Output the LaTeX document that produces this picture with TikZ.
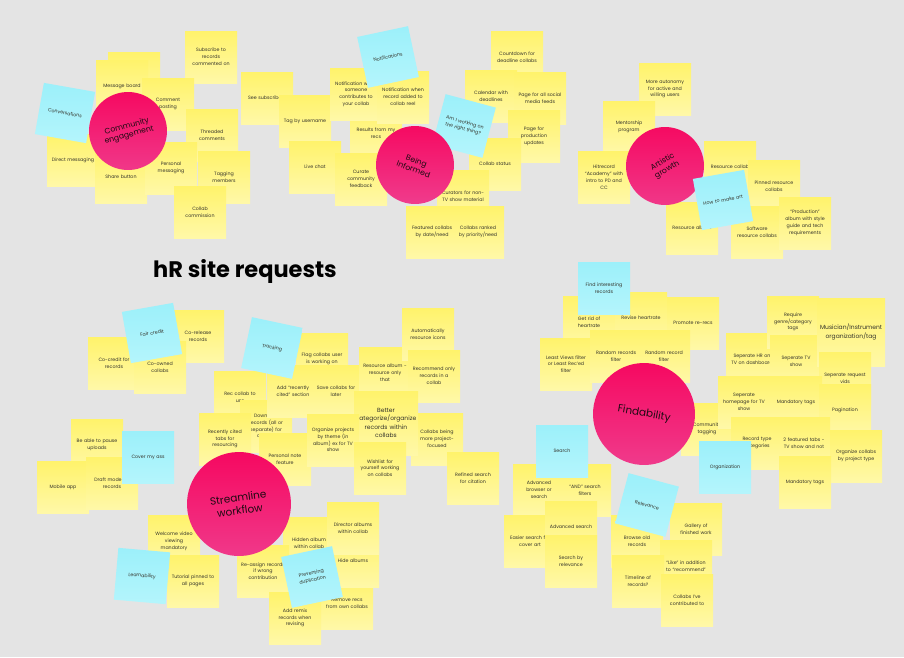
\documentclass[tikz,border=0pt]{standalone}
\usepackage{fontspec}
\setmainfont{Poppins}
\usetikzlibrary{positioning}

\definecolor{canvasgray}{HTML}{E4E4E4}
\definecolor{noteyellowtop}{HTML}{FFF36B}
\definecolor{noteyellowbot}{HTML}{FFF8A8}
\definecolor{notebluetop}{HTML}{9CF0FA}
\definecolor{notebluebot}{HTML}{B4F5FC}
\definecolor{topicpinktop}{HTML}{F6075F}
\definecolor{topicpinkbot}{HTML}{F03A8B}
\definecolor{notetext}{HTML}{34332A}
\definecolor{topictext}{HTML}{1E0A12}

\newcommand{\notefont}{\fontsize{4.75}{6.8}\selectfont\hyphenpenalty=10000\relax}
\newcommand{\bignotefont}{\fontsize{6}{8.2}\selectfont\hyphenpenalty=10000\relax}
\newcommand{\topicfont}{\fontsize{7.7}{9}\selectfont}
\newcommand{\bigtopicfont}{\fontsize{10.5}{12.5}\selectfont}

\begin{document}
\begin{tikzpicture}[x=1pt,y=-1pt,
        sticky/.style={rectangle,minimum size=52pt,inner sep=1pt,text width=50pt,align=center,
          font=\notefont,text=notetext,top color=noteyellowtop,bottom color=noteyellowbot},
        bluesticky/.style={sticky,top color=notebluetop,bottom color=notebluebot},
        bigsticky/.style={sticky,font=\bignotefont,text width=62pt,minimum size=64pt},
        topic/.style={circle,minimum size=78pt,inner sep=0pt,align=center,
          font=\topicfont,text=topictext,top color=topicpinktop,bottom color=topicpinkbot},
        bigtopic/.style={topic,minimum size=104pt,font=\bigtopicfont}]
\useasboundingbox (0,0) rectangle (904,657);
\fill[canvasgray] (0,0) rectangle (904,657);

\node[font=\bfseries\fontsize{22.5}{26}\selectfont] (title) at (245,271) {hR site requests};

% community engagement
\foreach \nm/\x/\y/\txt in {c-back/134/78/{},c-board/122/86/{Message board},
  c-subscribe/211/57/{Subscribe to\\records\\commented on},c-comment/168/104/{Comment\\posting},
  c-threaded/212/135/{Threaded\\comments},c-direct/73/160/{Direct messaging},
  c-share/121/177/{Share button},c-personal/171/168/{Personal\\messaging},
  c-tagging/224/177/{Tagging\\members},c-commission/200/212/{Collab\\commission}}{
\node[sticky] (\nm) at (\x,\y) {\txt};
}
\node[bluesticky,rotate=-10] (c-conv) at (65,113) {Conversations};
\node[topic,rotate=15] (c-topic) at (128,131) {Community\\engagement};

% being informed
\foreach \nm/\x/\y/\txt in {i-seesub/267/98/{See subscribers},i-tag/305/121/{Tag by username},
  i-results/376/133/{Results from my\\recs},
  i-notif1/356/94/{Notification when\\someone\\contributes to\\your collab},
  i-notif2/403/97/{Notification when\\record added to\\collab reel},
  i-live/315/167/{Live chat},i-curate/361/179/{Curate\\community\\feedback},
  i-countdown/517/57/{Countdown for\\deadline collabs},i-calendar/491/96/{Calendar with\\deadlines},
  i-social/540/98/{Page for all social\\media feeds},i-production/534/136/{Page for\\production\\updates},
  i-status/495/164/{Collab status},i-curators/463/196/{Curators for non-\\TV show material},
  i-featured/432/232/{Featured collabs\\by date/need},i-ranked/478/232/{Collabs ranked\\by priority/need}}{
\node[sticky] (\nm) at (\x,\y) {\txt};
}
\node[bluesticky,rotate=12] (i-notifs) at (388,57) {Notifications};
\node[bluesticky,rotate=-15] (i-right) at (464,126) {Am I working on\\the right thing?};
\node[topic,rotate=-20] (i-topic) at (415,165) {Being\\Informed};

% artistic growth
\foreach \nm/\x/\y/\txt in {a-autonomy/665/89/{More autonomy\\for active and\\willing users},
  a-mentor/629/127/{Mentorship\\program},a-academy/604/177/{Hitrecord\\“Academy” with\\intro to PD and\\CC},
  a-rescollab/730/167/{Resource collab},a-pinned/774/186/{Pinned resource\\collabs},
  a-resalbum/692/228/{Resource album},a-software/757/232/{Software\\resource collabs},
  a-production/805/223/{“Production”\\album with style\\guide and tech\\requirements}}{
\node[sticky] (\nm) at (\x,\y) {\txt};
}
\node[topic,rotate=30] (a-topic) at (665,166) {Artistic\\growth};
\node[bluesticky,rotate=10] (a-howto) at (723,200) {How to make art};

% streamline workflow
\foreach \nm/\x/\y/\txt in {s-cocredit/114/363/{Co-credit for\\records},
  s-corelease/198/336/{Co-release\\records},s-coowned/160/367/{Co-owned\\collabs},
  s-rec/240/397/{Rec collab to\\use},s-download/266/426/{Download\\records (all or\\separate) for\\albums},
  s-flag/322/359/{Flag collabs user\\is working on},s-recent/293/391/{Add “recently\\cited” section},
  s-save/336/391/{Save collabs for\\later},s-cited/225/439/{Recently cited\\tabs for\\resourcing},
  s-personal/285/459/{Personal note\\feature},s-resalbum/385/373/{Resource album -\\resource only\\that},
  s-autoicons/428/334/{Automatically\\resource icons},s-reconly/434/376/{Recommend only\\records in a\\collab},
  s-projfocus/437/439/{Collabs being\\more project-\\focused}}{
\node[sticky] (\nm) at (\x,\y) {\txt};
}
\node[bigsticky] (s-better) at (386,423) {Better\\categorize/organize\\records within\\collabs};
\foreach \nm/\x/\y/\txt in {s-organize/333/440/{Organize projects\\by theme (in\\album) ex for TV\\show},
  s-wishlist/380/468/{Wishlist for\\yourself working\\on collabs},s-refined/473/478/{Refined search\\for citation},
  s-pause/97/445/{Be able to pause\\uploads},s-mobile/63/487/{Mobile app},s-draft/112/483/{Draft mode for\\records},
  s-welcome/174/541/{Welcome video\\viewing\\mandatory},s-tutorial/193/581/{Tutorial pinned to\\all pages},
  s-hidden/309/543/{Hidden album\\within collab},s-remove/347/603/{Remove recs\\from own collabs},
  s-hide/353/561/{Hide albums},s-director/353/528/{Director albums\\within collab},
  s-reassign/263/571/{Re-assign records\\if wrong\\contribution},s-remix/295/618/{Add remix\\records when\\revising}}{
\node[sticky] (\nm) at (\x,\y) {\txt};
}
\node[bluesticky,rotate=10] (s-fair) at (152,333) {Fair credit};
\node[bluesticky,rotate=-12] (s-tracking) at (272,348) {Tracking};
\node[bluesticky] (s-cover) at (148,457) {Cover my ass};
\node[bluesticky,rotate=-5] (s-learn) at (142,576) {Learnability};
\node[bluesticky,rotate=12] (s-dup) at (312,577) {Preventing\\duplication};
\node[bigtopic,rotate=8] (s-topic) at (239,504) {Streamline\\workflow};

% findability
\foreach \nm/\x/\y/\txt in {f-getrid/589/322/{Get rid of\\heartrate},f-revise/641/318/{Revise heartrate},
  f-promote/693/323/{Promote re-recs},f-least/566/364/{Least Views filter\\or Least Rec’ed\\filter},
  f-randoms/616/356/{Random records\\filter},f-random/664/356/{Random record\\filter},
  f-community/707/429/{Community\\tagging},f-sephr/752/359/{Seperate HR on\\TV on dashboard},
  f-require/793/322/{Require\\genre/category\\tags},f-septv/796/361/{Seperate TV\\show}}{
\node[sticky] (\nm) at (\x,\y) {\txt};
}
\node[bigsticky,minimum size=68pt] (f-musician) at (851,332) {Musician/Instrument\\organization/tag};
\foreach \nm/\x/\y/\txt in {f-sepvids/845/378/{Seperate request\\vids},
  f-homepage/744/402/{Seperate\\homepage for TV\\show},f-mandatory/796/402/{Mandatory tags},
  f-pagination/845/410/{Pagination},f-recordtype/757/443/{Record type\\categories},
  f-featured/804/443/{2 featured tabs -\\TV show and not},f-bytype/856/456/{Organize collabs\\by project type},
  f-mandatory2/805/482/{Mandatory tags},f-advanced/539/490/{Advanced\\browser or\\search},
  f-and/585/490/{“AND” search\\filters},f-easier/530/541/{Easier search for\\cover art},
  f-advsearch/571/527/{Advanced search},f-byrelevance/571/561/{Search by\\relevance},
  f-gallery/696/529/{Gallery of\\finished work},f-browse/637/541/{Browse old\\records},
  f-like/686/566/{“Like” in addition\\to “recommend”},f-timeline/638/581/{Timeline of\\records?},
  f-contributed/687/600/{Collabs I’ve\\contributed to}}{
\node[sticky] (\nm) at (\x,\y) {\txt};
}
\node[bluesticky] (f-find) at (604,288) {Find interesting\\records};
\node[bluesticky] (f-search) at (562,451) {Search};
\node[bluesticky] (f-organization) at (725,467) {Organization};
\node[bluesticky,rotate=-15] (f-relevance) at (647,505) {Relevance};
\node[bigtopic,minimum size=102pt,rotate=-10] (f-topic) at (644,414) {Findability};

\end{tikzpicture}
\end{document}
